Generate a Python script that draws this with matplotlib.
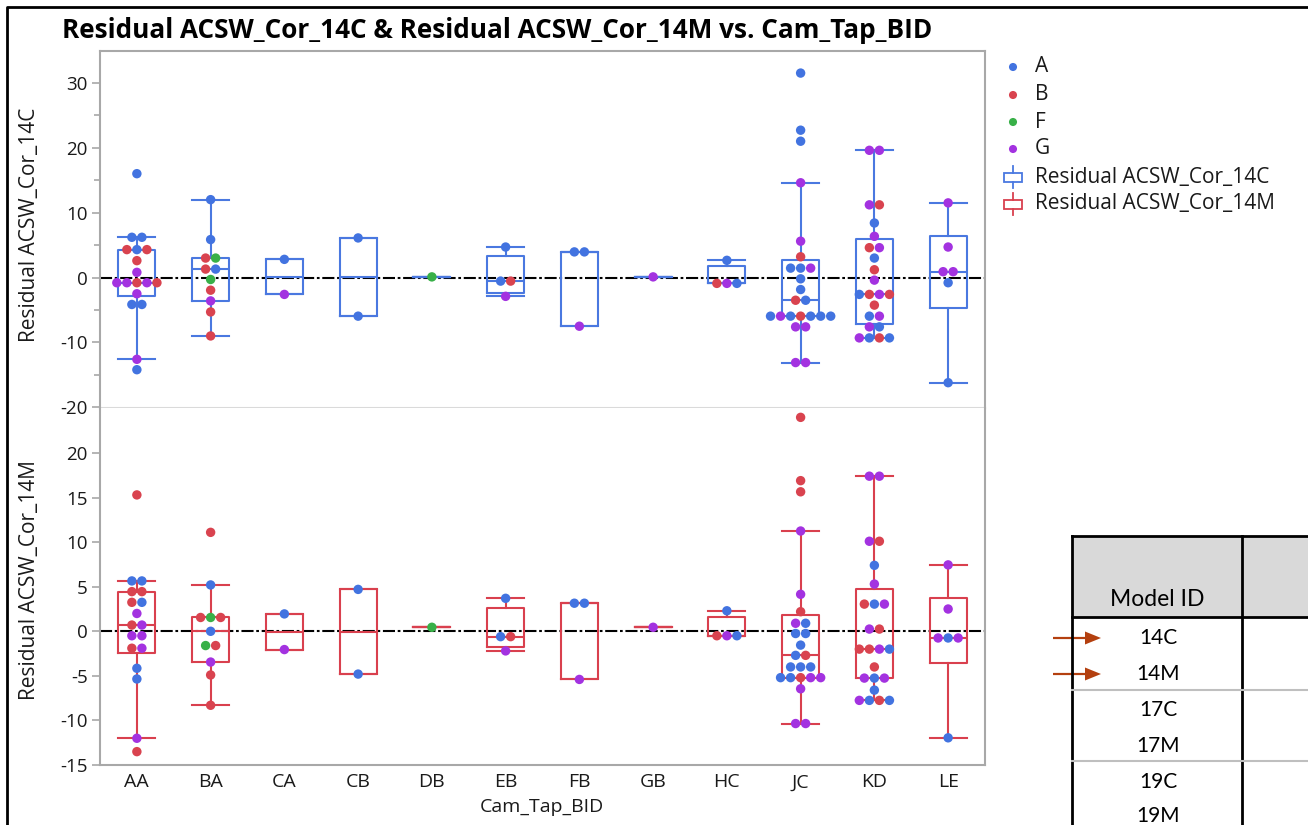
import numpy as np
import matplotlib
matplotlib.use("Agg")
import matplotlib.pyplot as plt
from matplotlib.patches import Rectangle, FancyArrow

plt.rcParams["font.family"] = ["Open Sans", "DejaVu Sans"]
plt.rcParams["axes.unicode_minus"] = False

W, H = 1308, 825

CATS = ["AA", "BA", "CA", "CB", "DB", "EB", "FB", "GB", "HC", "JC", "KD", "LE"]
GROUP_COLORS = {"A": "#4273e0", "B": "#d9434f", "F": "#38b048", "G": "#a332e0"}

# points per category (same for both responses)
n_per_cat = [18, 11, 2, 2, 1, 4, 3, 1, 4, 24, 24, 6]

# Residual ACSW_Cor_14C, listed category by category, rows left to right
val_14c = [
    16.0, 6.2, 6.2, 4.3, 4.3, 4.3, 2.6, 0.8, -0.8, -0.8, -0.8, -0.8, -0.8, -2.5, -4.15, -4.15, -12.6, -14.2,
    12.0, 5.85, 3.0, 3.0, 1.3, 1.3, -0.3, -1.95, -3.6, -5.3, -9.0,
    2.8, -2.6,
    6.1, -5.95,
    0.1,
    4.7, -0.55, -0.55, -2.9,
    3.95, 3.95, -7.5,
    0.1,
    2.65, -0.9, -0.9, -0.9,
    31.5, 22.7, 21.0, 14.6, 5.6, 3.2, 1.45, 1.45, 1.45, -0.2, -1.85, -3.5, -3.5,
    -5.95, -5.95, -5.95, -5.95, -5.95, -5.95, -5.95, -7.6, -7.6, -13.1, -13.1,
    19.6, 19.6, 11.2, 11.2, 8.4, 6.35, 4.6, 4.6, 3.0, 1.2, -0.4, -2.6, -2.6, -2.6, -2.6,
    -4.25, -5.95, -5.95, -7.6, -7.6, -9.3, -9.3, -9.3, -9.3,
    11.5, 4.7, 0.9, 0.9, -0.8, -16.2,
]
grp_14c = list(
    "AAABABBGGGBGBGAAGA" "AABFBAFBGBB" "AG" "AA" "F" "AABG" "AAG" "G" "ABGA"
    "AAAGGBAAGAABAAGABAAAGGGG" "GGGBAGBGABGABGBBAGGAGABA" "GGGGAA"
)

# Residual ACSW_Cor_14M
val_14m = [
    15.3, 5.65, 5.65, 4.45, 4.45, 3.25, 3.25, 2.0, 0.7, 0.7, -0.5, -0.5, -1.9, -1.9, -4.15, -5.35, -12.0, -13.5,
    11.1, 5.2, 1.55, 1.55, 1.55, 0.0, -1.6, -1.6, -3.45, -4.9, -8.3,
    1.95, -2.05,
    4.7, -4.8,
    0.45,
    3.7, -0.6, -0.6, -2.2,
    3.15, 3.15, -5.4,
    0.45,
    2.3, -0.5, -0.5, -0.5,
    24.0, 16.9, 15.65, 11.25, 4.15, 2.2, 0.9, 0.9, -0.25, -0.25, -1.55, -2.7, -2.7,
    -4.0, -4.0, -4.0, -5.2, -5.2, -5.2, -5.2, -5.2, -6.45, -10.35, -10.35,
    17.4, 17.4, 10.1, 10.1, 7.4, 5.3, 3.05, 3.05, 3.05, 0.25, 0.25, -2.0, -2.0, -2.0, -2.0,
    -4.0, -5.25, -5.25, -5.25, -6.6, -7.75, -7.75, -7.75, -7.75,
    7.45, 2.5, -0.75, -0.75, -0.75, -11.95,
]
grp_14m = list(
    "BAABBBAGBGGGBGAAGB" "BABFBAFBGBB" "AG" "AA" "F" "AABG" "AAG" "G" "ABGA"
    "BBBGGBGAAAAABAAAAABGGGGG" "GGGBAGBAGGBBBGABGAGAGABA" "GGGAGA"
)

Y_TOP = (-20.1, 34.9)
Y_BOT = (-15.0, 25.05)
BOX_14C = "#4a78e0"
BOX_14M = "#d9404e"
SPINE = "#a8a8a8"
TXT = "#1a1a1a"


def split(vals, grps):
    out, i = [], 0
    for n in n_per_cat:
        out.append((np.array(vals[i:i + n]), grps[i:i + n]))
        i += n
    return out


def jmp_stats(v):
    q1, med, q3 = np.percentile(v, [25, 50, 75], method="weibull")
    iqr = q3 - q1
    lo = v[v >= q1 - 1.5 * iqr].min()
    hi = v[v <= q3 + 1.5 * iqr].max()
    return dict(med=med, q1=q1, q3=q3, whislo=lo, whishi=hi, fliers=[])


def draw_panel(ax, vals, grps, box_color, ylim):
    data = split(vals, grps)
    ax.axhline(0, color="black", lw=1.5, dashes=(5.8, 1.3, 1.3, 1.3), zorder=1)
    props = dict(color=box_color, lw=1.5)
    ax.bxp([jmp_stats(v) for v, _ in data], positions=range(len(CATS)),
           widths=0.5, capwidths=0.5, showfliers=False,
           boxprops=props, whiskerprops=props, capprops=props,
           medianprops=props, zorder=2)
    dx = 0.136
    for ci, (v, g) in enumerate(data):
        for val in np.unique(v):
            idx = np.where(v == val)[0]
            k = len(idx)
            for j, ii in enumerate(idx):
                ax.scatter(ci + (j - (k - 1) / 2) * dx, val, s=46,
                           color=GROUP_COLORS[g[ii]], edgecolors="none", zorder=3)
    ax.set_xlim(-0.5, 11.5)
    ax.set_ylim(*ylim)
    for s in ax.spines.values():
        s.set_color(SPINE)
        s.set_linewidth(1.5)
    ax.tick_params(axis="y", colors=SPINE, labelcolor=TXT, labelsize=13.5,
                   length=6, width=1.2, pad=3)
    ax.tick_params(axis="y", which="minor", colors=SPINE, length=4, width=1.2)


fig = plt.figure(figsize=(W / 100, H / 100), dpi=100)
fig.patch.set_facecolor("white")

ax1 = fig.add_axes([100 / W, 1 - 408 / H, 885 / W, 357 / H])
ax2 = fig.add_axes([100 / W, 1 - 765 / H, 885 / W, 357 / H])

draw_panel(ax1, val_14c, grp_14c, BOX_14C, Y_TOP)
draw_panel(ax2, val_14m, grp_14m, BOX_14M, Y_BOT)

ax1.set_yticks(range(-20, 31, 10))
ax1.set_yticks(range(-15, 30, 10), minor=True)
ax1.set_xticks([])
ax1.spines["bottom"].set_color("#dadada")
ax2.set_yticks(range(-15, 21, 5))
ax2.spines["top"].set_visible(False)
ax2.set_xticks(range(len(CATS)))
ax2.set_xticklabels(CATS)
ax2.tick_params(axis="x", length=0, pad=6, labelsize=14, labelcolor=TXT)

fig.text(30 / W, 1 - 225 / H, "Residual ACSW_Cor_14C", rotation=90,
         ha="center", va="center", fontsize=15, color=TXT)
fig.text(30 / W, 1 - 580 / H, "Residual ACSW_Cor_14M", rotation=90,
         ha="center", va="center", fontsize=15, color=TXT)
fig.text(542 / W, 1 - 807 / H, "Cam_Tap_BID", ha="center", va="center",
         fontsize=14, color=TXT)
fig.text(62 / W, 1 - 30 / H,
         "Residual ACSW_Cor_14C & Residual ACSW_Cor_14M vs. Cam_Tap_BID",
         ha="left", va="center", fontsize=18.8, fontweight="bold", color="black")

# overlay in pixel coordinates for frame, legend and side table
ov = fig.add_axes([0, 0, 1, 1], zorder=5)
ov.set_xlim(0, W)
ov.set_ylim(H, 0)
ov.axis("off")
ov.patch.set_alpha(0)

ov.plot([7, 7, W], [H, 7, 7], color="black", lw=2, solid_capstyle="butt")

# legend
leg_y = [67, 95, 122, 149]
for (name, col), y in zip(GROUP_COLORS.items(), leg_y):
    ov.scatter(1013, y, s=34, color=col, edgecolors="none")
    ov.text(1035, y, name, va="center", ha="left", fontsize=15, color=TXT)
for y, col, lab in [(177, BOX_14C, "Residual ACSW_Cor_14C"),
                    (204, BOX_14M, "Residual ACSW_Cor_14M")]:
    ov.add_patch(Rectangle((1004, y - 4.5), 18, 9, fill=False, ec=col, lw=1.3))
    ov.plot([1013, 1013], [y - 11, y - 4.5], color=col, lw=1.3)
    ov.plot([1013, 1013], [y + 4.5, y + 11], color=col, lw=1.3)
    ov.text(1035, y, lab, va="center", ha="left", fontsize=15, color=TXT)

# side table (cut off by the figure edge, as in the source screenshot)
ov.add_patch(Rectangle((1072, 536), W - 1072 + 5, 81, fc="#d9d9d9", ec="none"))
ov.plot([1072, W], [536, 536], color="black", lw=2)
ov.plot([1072, W], [617, 617], color="black", lw=2)
ov.plot([1072, 1072], [536, H], color="black", lw=2)
ov.plot([1242, 1242], [536, H], color="black", lw=2)
for y in (690, 761):
    ov.plot([1072, W], [y, y], color="#bfbfbf", lw=1.5)
ov.text(1157, 600, "Model ID", ha="center", va="center", fontsize=16.5,
        family=["Lato", "DejaVu Sans"], color="black")
model_ids = ["14C", "14M", "17C", "17M", "19C", "19M"]
row_y = [638, 674, 710, 746, 782, 816]
for lab, y in zip(model_ids, row_y):
    ov.text(1158, y, lab, ha="center", va="center", fontsize=15,
            family=["Lato", "DejaVu Sans"], color="black")
for y in row_y[:2]:
    ov.add_patch(FancyArrow(1053, y, 48, 0, width=2.2, head_width=13,
                            head_length=16, length_includes_head=True,
                            color="#b4400f", lw=0))

fig.savefig("out.png", dpi=100, facecolor="white")
